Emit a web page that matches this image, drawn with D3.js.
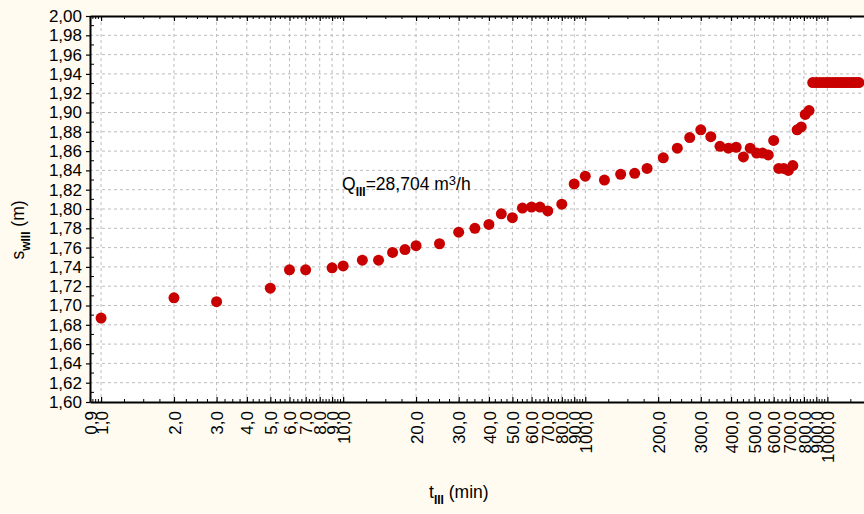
<!DOCTYPE html>
<html>
<head>
<meta charset="utf-8">
<script src="https://cdn.jsdelivr.net/npm/d3@7"></script>
<style>
  body { margin: 0; background: #fffbf0; }
  svg { display: block; font-family: "Liberation Sans", Arial, sans-serif; }
</style>
</head>
<body>
<script>
// pumping step III: time (min) and drawdown (m)
const times = [1, 2, 3, 5, 6, 7, 9, 10, 12, 14, 16, 18, 20, 25, 30, 35, 40, 45, 50, 55,
    60, 65, 70, 80, 90, 100, 120, 140, 160, 180, 210, 240, 270, 300, 330, 360, 390, 420,
    450, 480, 510, 540, 570, 600, 630, 660, 690, 720, 750, 780, 810, 840,
    870, 900, 930, 960, 990, 1020, 1050, 1080, 1110, 1140, 1170, 1200, 1230, 1260, 1290, 1320, 1350];
const drawdown = [1.687, 1.708, 1.704, 1.718, 1.737, 1.737, 1.739, 1.741, 1.747, 1.747,
    1.755, 1.758, 1.762, 1.764, 1.776, 1.780, 1.784, 1.795, 1.791, 1.801,
    1.802, 1.802, 1.798, 1.805, 1.826, 1.834, 1.830, 1.836, 1.837, 1.842,
    1.853, 1.863, 1.874, 1.882, 1.875, 1.865, 1.863, 1.864, 1.854, 1.863,
    1.858, 1.858, 1.856, 1.871, 1.842, 1.842, 1.840, 1.845, 1.882, 1.885,
    1.898, 1.902,
    1.931, 1.931, 1.931, 1.931, 1.931, 1.931, 1.931, 1.931, 1.931, 1.931,
    1.931, 1.931, 1.931, 1.931, 1.931, 1.931, 1.931];

const xTicks = [0.9, 1, 2, 3, 4, 5, 6, 7, 8, 9, 10, 20, 30, 40, 50, 60, 70, 80, 90, 100,
    200, 300, 400, 500, 600, 700, 800, 900, 1000];
const yTicks = [1.60, 1.62, 1.64, 1.66, 1.68, 1.70, 1.72, 1.74, 1.76, 1.78, 1.80,
    1.82, 1.84, 1.86, 1.88, 1.90, 1.92, 1.94, 1.96, 1.98, 2.00];

let data = times.map((t, i) => ({ t: t, s: drawdown[i] }));

let width = 864;
let height = 514;
let marginTop = 16;
let marginRight = -6;
let marginBottom = 112;
let marginLeft = 90;

let comma = d3.format(".1f");
let comma2 = d3.format(".2f");

let x = d3.scaleLog()
    .domain([0.9, 1500])
    .range([marginLeft, width - marginRight]);

let y = d3.scaleLinear()
    .domain([1.6, 2.0])
    .range([height - marginBottom, marginTop]);

let svg = d3.select("body").append("svg")
    .attr("width", width)
    .attr("height", height)
    .attr("viewBox", [0, 0, width, height]);

svg.append("rect")
    .attr("width", width).attr("height", height)
    .attr("fill", "#fffbf0");

// plot area
svg.append("rect")
    .attr("x", marginLeft)
    .attr("y", marginTop)
    .attr("width", width - marginRight - marginLeft)
    .attr("height", height - marginBottom - marginTop)
    .attr("fill", "white");

// grid
svg.append("g")
    .selectAll("line")
    .data(yTicks.slice(1, -1))
    .join("line")
    .attr("x1", marginLeft).attr("x2", width - marginRight)
    .attr("y1", d => y(d)).attr("y2", d => y(d))
    .attr("stroke", "#bdbdbd")
    .attr("stroke-dasharray", "3,3");

svg.append("g")
    .selectAll("line")
    .data(xTicks.slice(1))
    .join("line")
    .attr("x1", d => x(d)).attr("x2", d => x(d))
    .attr("y1", marginTop).attr("y2", height - marginBottom)
    .attr("stroke", "#bdbdbd")
    .attr("stroke-dasharray", "3,3");

// minor x ticks at quarter steps
let minorX = [];
[0.1, 1, 10, 100, 1000].forEach(d => {
    for (let k = 1; k < 10; k++) {
        [0.25, 0.5, 0.75].forEach(q => {
            let v = (k + q) * d;
            if (v > 0.9 && v < 1500) minorX.push(v);
        });
    }
});

// bottom axis
svg.append("g")
    .attr("transform", `translate(0,${height - marginBottom})`)
    .call(d3.axisBottom(x).tickValues(xTicks).tickSize(-5).tickSizeOuter(0).tickFormat(d => comma(d).replace(".", ",")))
    .call(g => g.select(".domain").attr("stroke-width", 2))
    .call(g => g.selectAll(".tick line").attr("stroke-width", 1.2))
    .call(g => g.selectAll("text")
        .attr("transform", "rotate(-90)")
        .attr("x", -9)
        .attr("y", 0)
        .attr("dy", "0.36em")
        .attr("text-anchor", "end")
        .attr("fill", "black")
        .style("font-size", "17px"));

svg.append("g")
    .selectAll("line")
    .data(minorX)
    .join("line")
    .attr("x1", d => x(d)).attr("x2", d => x(d))
    .attr("y1", height - marginBottom).attr("y2", height - marginBottom - 3)
    .attr("stroke", "black");

// top axis (mirror)
svg.append("g")
    .attr("transform", `translate(0,${marginTop})`)
    .call(d3.axisTop(x).tickValues(xTicks).tickSize(-5).tickSizeOuter(0).tickFormat(""))
    .call(g => g.select(".domain").attr("stroke-width", 2))
    .call(g => g.selectAll(".tick line").attr("stroke-width", 1.2));

svg.append("g")
    .selectAll("line")
    .data(minorX)
    .join("line")
    .attr("x1", d => x(d)).attr("x2", d => x(d))
    .attr("y1", marginTop).attr("y2", marginTop + 3)
    .attr("stroke", "black");

// left axis
svg.append("g")
    .attr("transform", `translate(${marginLeft},0)`)
    .call(d3.axisLeft(y).tickValues(yTicks).tickSize(4).tickSizeOuter(0).tickFormat(d => comma2(d).replace(".", ",")))
    .call(g => g.select(".domain").attr("stroke-width", 2))
    .call(g => g.selectAll(".tick line").attr("stroke-width", 1.2))
    .call(g => g.selectAll("text").attr("x", -8).attr("fill", "black").style("font-size", "17px"));

svg.append("g")
    .selectAll("line")
    .data(yTicks.slice(0, -1).map(d => d + 0.01))
    .join("line")
    .attr("x1", marginLeft).attr("x2", marginLeft + 4)
    .attr("y1", d => y(d)).attr("y2", d => y(d))
    .attr("stroke", "black");

// points
svg.append("g")
    .selectAll("circle")
    .data(data)
    .join("circle")
    .attr("cx", d => x(d.t))
    .attr("cy", d => y(d.s))
    .attr("r", 5.5)
    .attr("fill", "#c80000");

// annotation
let note = svg.append("text")
    .attr("x", 342)
    .attr("y", 190)
    .attr("fill", "black")
    .style("font-size", "17.5px");
note.append("tspan").text("Q");
note.append("tspan").attr("dy", 6).style("font-size", "12px").style("font-weight", "bold").text("III");
note.append("tspan").attr("dy", -6).text("=28,704 m");
note.append("tspan").attr("dy", -5).style("font-size", "13px").text("3");
note.append("tspan").attr("dy", 5).text("/h");

// x title
let xTitle = svg.append("text")
    .attr("x", 429)
    .attr("y", 498)
    .attr("fill", "black")
    .style("font-size", "17.5px");
xTitle.append("tspan").text("t");
xTitle.append("tspan").attr("dy", 6).style("font-size", "12px").style("font-weight", "bold").text("III");
xTitle.append("tspan").attr("dy", -6).text(" (min)");

// y title
let yTitle = svg.append("text")
    .attr("transform", "translate(24,230) rotate(-90)")
    .attr("text-anchor", "middle")
    .attr("fill", "black")
    .style("font-size", "17.5px");
yTitle.append("tspan").text("s");
yTitle.append("tspan").attr("dy", 6).style("font-size", "12px").style("font-weight", "bold").text("wIII");
yTitle.append("tspan").attr("dy", -6).text(" (m)");
</script>
</body>
</html>
